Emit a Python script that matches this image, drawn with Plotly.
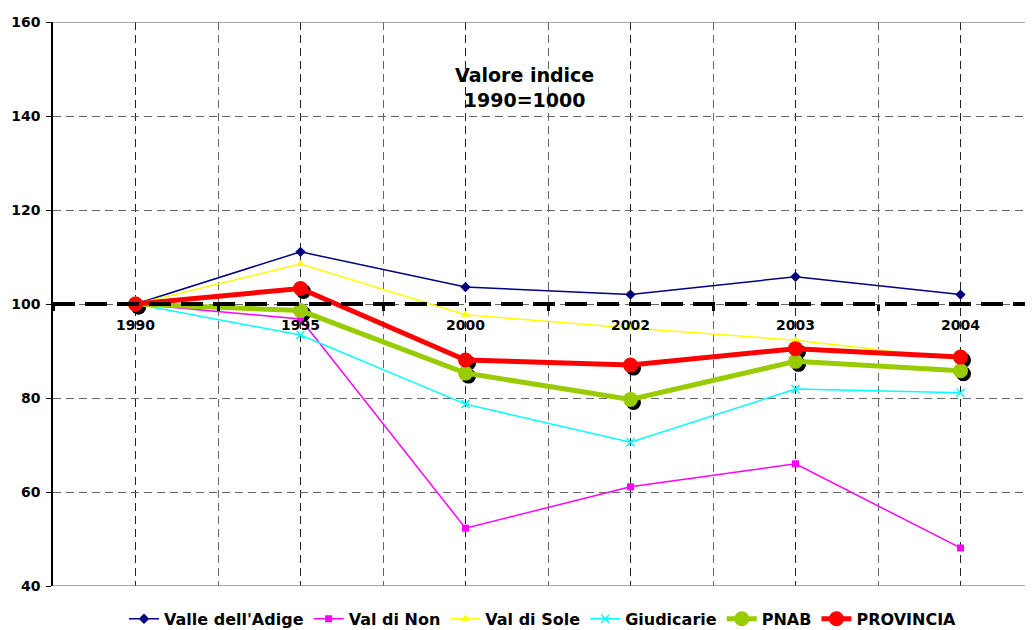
import plotly.graph_objects as go

years = ["1990", "1995", "2000", "2002", "2003", "2004"]
valle_adige = [100, 111.1, 103.6, 102.0, 105.8, 102.0]
val_di_non = [100, 96.8, 52.3, 61.1, 66.0, 48.1]
val_di_sole = [100, 108.5, 97.7, 94.9, 92.3, 88.3]
giudicarie = [100, 93.4, 78.7, 70.6, 81.9, 81.1]
pnab = [100, 98.6, 85.3, 79.7, 87.8, 85.8]
provincia = [100, 103.3, 88.1, 87.0, 90.5, 88.7]

pos = list(range(len(years)))

FONT = "DejaVu Sans"
PX_X = 165.0   # pixels per category
PX_Y = 4.7     # pixels per y unit
SHX, SHY = 3, 3

xr = [-0.5, -0.5 + 980 / PX_X]
yr = [40, 160]

fig = go.Figure()

# shadows (base axes, shifted)
for vals in (pnab, provincia):
    fig.add_trace(go.Scatter(x=pos, y=vals, mode="markers", showlegend=False,
                             hoverinfo="skip",
                             marker=dict(color="black", size=15, line=dict(width=0)),
                             xaxis="x", yaxis="y"))

series = [
    ("Valle dell'Adige", valle_adige, "#000080", 1.5, dict(symbol="diamond", size=8)),
    ("Val di Non", val_di_non, "#FF00FF", 1.5, dict(symbol="square", size=7)),
    ("Val di Sole", val_di_sole, "#FFFF00", 1.5, dict(symbol="triangle-up", size=8)),
    ("Giudicarie", giudicarie, "#00FFFF", 1.5, dict(symbol="x-thin", size=8, line=dict(width=1.5, color="#00FFFF"))),
    ("PNAB", pnab, "#99CC00", 5, dict(symbol="circle", size=15)),
    ("PROVINCIA", provincia, "#FF0000", 5, dict(symbol="circle", size=15)),
]
for name, vals, col, w, mk in series:
    mk = dict(mk)
    mk.setdefault("color", col)
    fig.add_trace(go.Scatter(x=pos, y=vals, name=name, mode="lines+markers",
                             line=dict(color=col, width=w), marker=mk,
                             xaxis="x2", yaxis="y2"))

tickfont = dict(family=FONT, size=14, color="black", weight="bold")

fig.update_layout(
    width=1025, height=622,
    margin=dict(l=45, r=0, t=14, b=44, autoexpand=False),
    paper_bgcolor="white", plot_bgcolor="white",
    showlegend=True,
    xaxis=dict(range=[xr[0] - SHX / PX_X, xr[1] - SHX / PX_X], visible=False,
               showgrid=False, automargin=False),
    yaxis=dict(range=[yr[0] + SHY / PX_Y, yr[1] + SHY / PX_Y], visible=False,
               showgrid=False, automargin=False),
    xaxis2=dict(overlaying="x", anchor="free", position=0.5, range=xr,
                tickvals=pos, ticktext=years, tickfont=tickfont, automargin=False,
                ticks="", ticklabelstandoff=11, showline=False, zeroline=False,
                showgrid=True, gridcolor="#222", gridwidth=1, griddash="8px,5px",
                minor=dict(tick0=0.5, dtick=1, ticks="outside", ticklen=6, tickwidth=3,
                           tickcolor="black", showgrid=True, gridcolor="#666",
                           gridwidth=1, griddash="8px,5px")),
    yaxis2=dict(overlaying="y", anchor="x2", side="left", range=yr, automargin=False,
                tickvals=[40, 60, 80, 100, 120, 140, 160], tickfont=tickfont,
                ticks="outside", ticklen=5, tickcolor="black", tickwidth=1,
                ticklabelstandoff=3,
                showline=True, linecolor="black", linewidth=1.5, zeroline=False,
                showgrid=True, gridcolor="#666", gridwidth=1, griddash="8px,5px"),
    legend=dict(orientation="h", x=0.5, xanchor="center", y=-0.028, yanchor="top",
                font=dict(family=FONT, size=16, color="black", weight="bold"),
                bgcolor="rgba(0,0,0,0)", itemwidth=30, tracegroupgap=0),
    annotations=[dict(text="Valore indice<br>1990=1000", xref="paper", yref="paper",
                      x=(524 - 53) / 980, y=(586 - 87) / 564, yanchor="middle",
                      xanchor="center", showarrow=False,
                      font=dict(family=FONT, size=19, color="black", weight="bold"))],
    shapes=[
        dict(type="line", xref="paper", yref="y2", x0=0, x1=1, y0=160, y1=160,
             line=dict(color="#888", width=1.5)),
        dict(type="line", xref="paper", yref="y2", x0=0, x1=1, y0=40, y1=40,
             line=dict(color="#888", width=1.5)),
        dict(type="line", xref="paper", yref="y2", x0=0, x1=1, y0=100, y1=100,
             layer="above", line=dict(color="black", width=4, dash="22px,10px")),
    ],
)

fig.write_html("out.html")
